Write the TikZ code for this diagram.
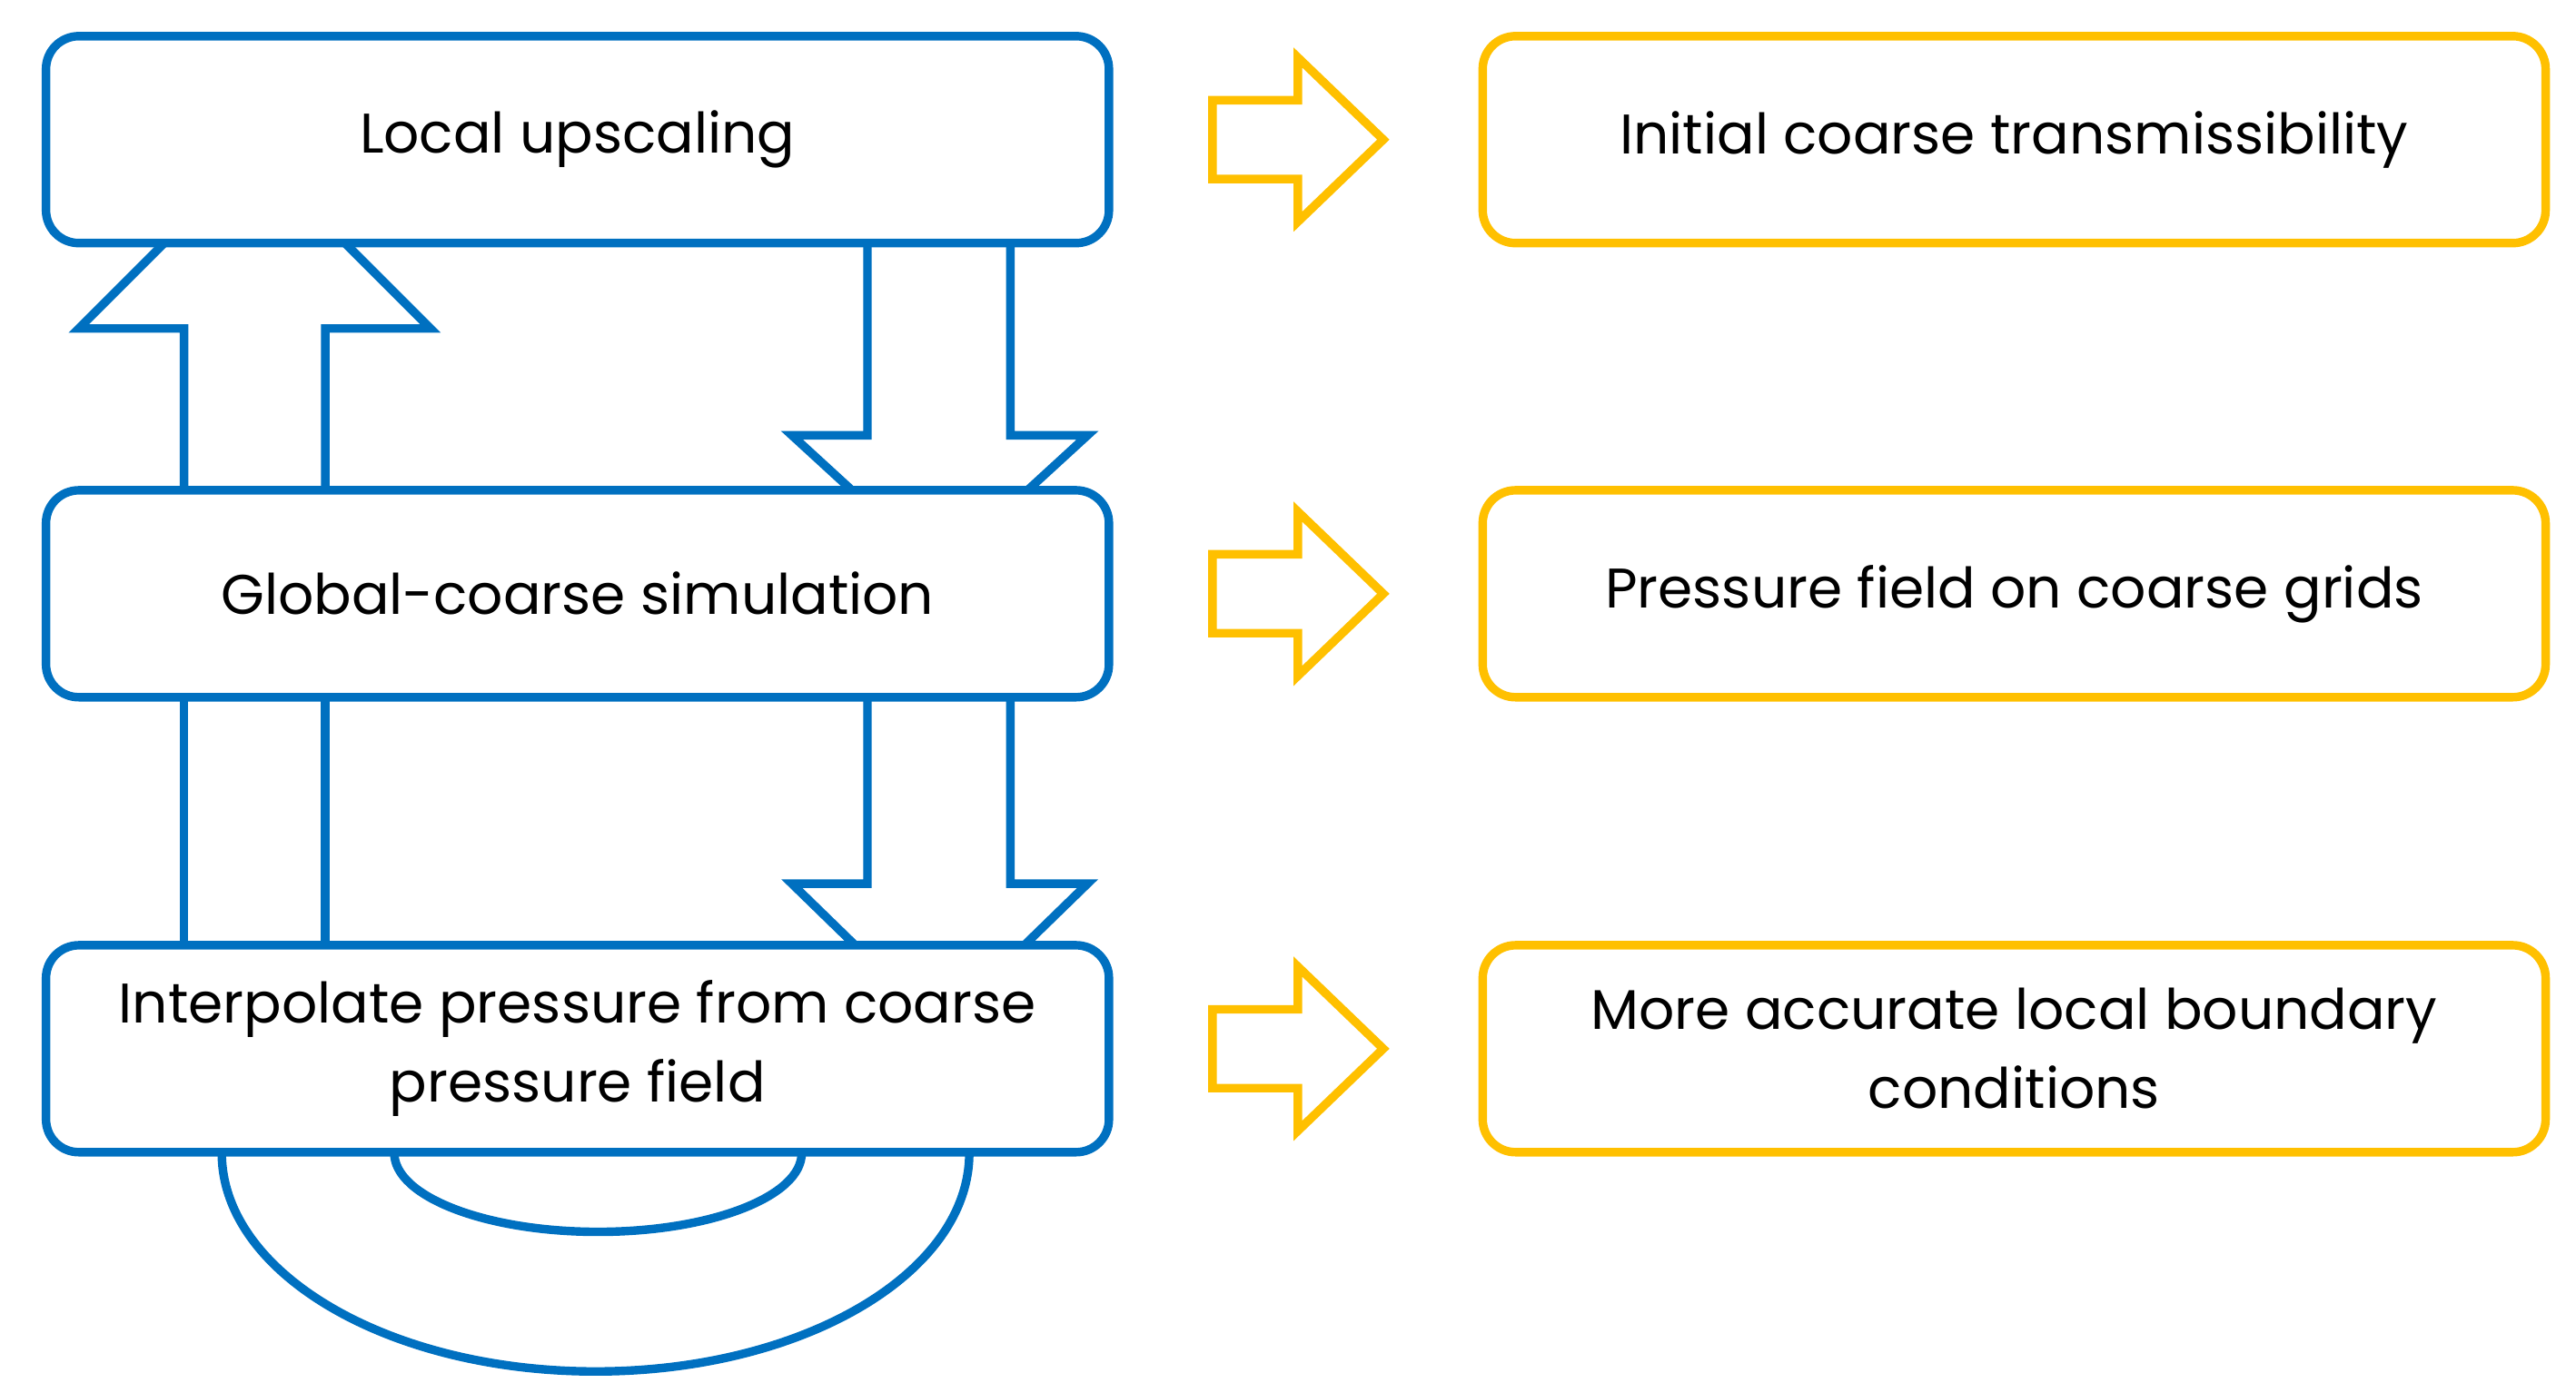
\documentclass[tikz,border=0pt]{standalone}
\usepackage{fontspec}
\setmainfont{Poppins}
\begin{document}
\definecolor{bl}{HTML}{0070C0}
\definecolor{og}{HTML}{FFC000}
\begin{tikzpicture}[x=0.5pt,y=-0.5pt,
  bbox/.style={draw=bl,line width=2.6pt,rounded corners=10pt,minimum width=323.5pt,minimum height=63pt,align=center,font=\fontsize{17}{24}\selectfont,inner sep=0pt},
  obox/.style={bbox,draw=og},
  bl line/.style={draw=bl,line width=2.6pt,line join=miter},
  oarrow/.style={draw=og,line width=2.6pt,line join=miter}]
\useasboundingbox (0,0) rectangle (1568,848);
\node[bbox] (b1) at (351.5,85) {Local upscaling};
\node[bbox] (b2) at (351.5,361.5) {Global-coarse simulation};
\node[bbox] (b3) at (351.5,638.5) {Interpolate pressure from coarse\\pressure field};
\node[obox] (o1) at (1226,85) {Initial coarse transmissibility};
\node[obox] (o2) at (1226,361.5) {Pressure field on coarse grids};
\node[obox] (o3) at (1226,638.5) {More accurate local boundary\\conditions};
\foreach \y in {85,361.5,638.5}{
  \draw[oarrow] (738,\y-24) -- (790,\y-24) -- (790,\y-50) -- (842,\y) -- (790,\y+50) -- (790,\y+24) -- (738,\y+24) -- cycle;}
% up arrow b2->b1
\draw[bl line] (112,298) -- (112,200) -- (48,200) -- (100,148);
\draw[bl line] (198,298) -- (198,200) -- (262,200) -- (210,148);
% down arrow b1->b2
\draw[bl line] (528,148) -- (528,265) -- (482,265) -- (518,298);
\draw[bl line] (615,148) -- (615,265) -- (662,265) -- (626,298);
% b2-b3
\draw[bl line] (112,425) -- (112,575);
\draw[bl line] (198,425) -- (198,575);
\draw[bl line] (528,425) -- (528,538) -- (482,538) -- (520,575);
\draw[bl line] (615,425) -- (615,538) -- (662,538) -- (624,575);
% loops
\draw[bl line] (135,702) arc[start angle=180,end angle=0,x radius=227.5,y radius=133];
\draw[bl line] (240,702) arc[start angle=180,end angle=0,x radius=124,y radius=48];
\end{tikzpicture}
\end{document}
